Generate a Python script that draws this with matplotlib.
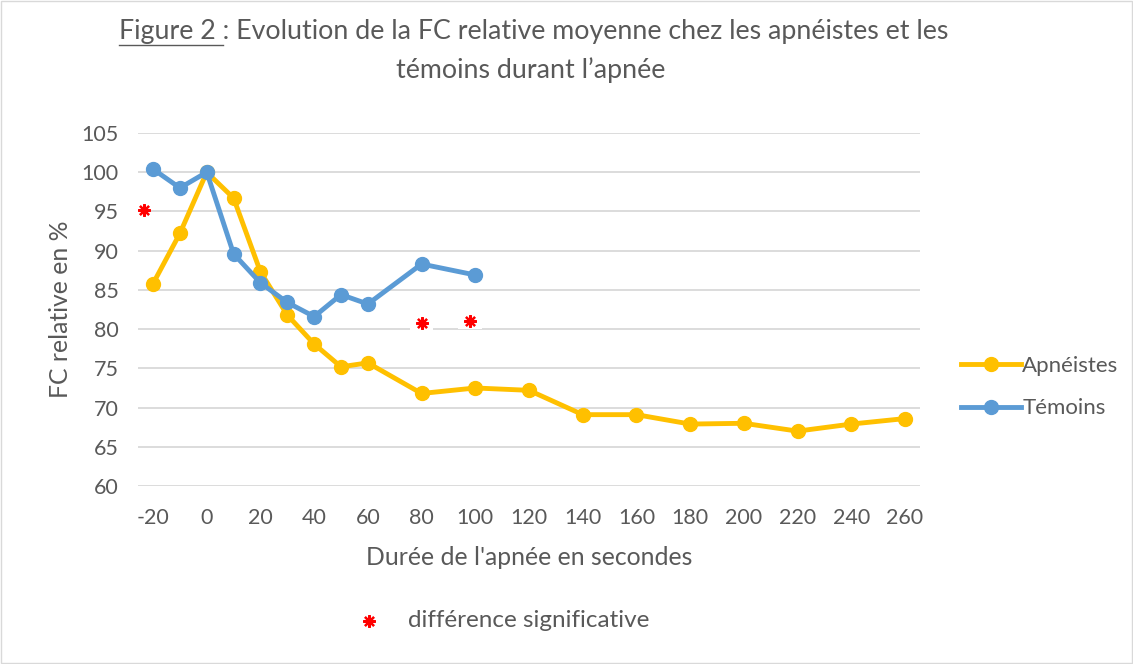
import matplotlib.pyplot as plt
from matplotlib.patches import Rectangle

plt.rcParams['font.family'] = ['Lato', 'DejaVu Sans']
plt.rcParams['axes.unicode_minus'] = False

# donnees
duree = [-20, -10, 0, 10, 20, 30, 40, 50, 60, 80, 100, 120, 140, 160, 180, 200, 220, 240, 260]
apneistes = [85.8, 92.2, 100, 96.7, 87.3, 81.8, 78.1, 75.2, 75.7, 71.8, 72.5, 72.2, 69.1, 69.1, 67.9, 68.0, 67.0, 67.9, 68.6]
duree_temoins = [-20, -10, 0, 10, 20, 30, 40, 50, 60, 80, 100]
temoins = [100.4, 98.0, 100, 89.6, 85.9, 83.4, 81.6, 84.4, 83.2, 88.3, 86.9]
# etoiles = difference significative
star_x = [-23.3, 80, 98]
star_y = [95.2, 80.8, 81.0]
xticks = list(range(-20, 261, 20))
yticks = list(range(60, 106, 5))

c_apn = '#FFC000'
c_tem = '#5B9BD5'
grey = '#595959'
rouge = '#FF0000'

fig = plt.figure(figsize=(11.33, 6.64), dpi=100)
ax = fig.add_axes([0.1218, 0.268, 0.812 - 0.1218, 0.7997 - 0.268])

ax.plot(duree, apneistes, color=c_apn, lw=3.5, marker='o', ms=10, label='Apnéistes', zorder=3)
ax.plot(duree_temoins, temoins, color=c_tem, lw=3.5, marker='o', ms=10, label='Témoins', zorder=4)

for i in range(len(star_x)):
    if i > 0:
        # petit cadre blanc derriere l'etoile (coupe la grille)
        ax.text(star_x[i], star_y[i], '      ', ha='center', va='center', fontsize=10,
                bbox=dict(facecolor='white', edgecolor='none', pad=1), zorder=2)
    ax.plot(star_x[i], star_y[i], marker=(8, 2, 0), color=rouge, ms=9, mew=1.6, zorder=5, clip_on=False)

ax.set_xlim(-25.6, 265.6)
ax.set_ylim(60, 105)
ax.set_xticks(xticks)
ax.set_yticks(yticks)
ax.grid(axis='y', color='#D9D9D9', lw=1.3)
ax.set_axisbelow(True)
for s in ax.spines.values():
    s.set_visible(False)
ax.tick_params(length=0, labelsize=15.5, colors=grey)
ax.tick_params(axis='x', pad=16)
ax.tick_params(axis='y', pad=14)
ax.set_xlabel("Durée de l'apnée en secondes", fontsize=17.8, color=grey, labelpad=13)
ax.set_ylabel('FC relative en %', fontsize=17.8, color=grey, labelpad=7)

ax.legend(loc='center left', bbox_to_anchor=(1.027, 0.28), frameon=False, fontsize=16,
          labelcolor=grey, handlelength=2.7, handletextpad=0.05, labelspacing=1.0)

# titre avec "Figure 2" souligne
titre1 = 'Figure 2 : Evolution de la FC relative moyenne chez les apnéistes et les'
titre2 = 'témoins durant l\u2019apnée'
fs_t = 19.3
t1 = fig.text(0.471, 0.942, titre1, fontsize=fs_t, color=grey, ha='center', va='baseline')
fig.text(0.468, 0.883, titre2, fontsize=fs_t, color=grey, ha='center', va='baseline')
r = fig.canvas.get_renderer()
bb = t1.get_window_extent(r)
tmp = fig.text(0, 0, 'Figure 2 ', fontsize=fs_t)
w = tmp.get_window_extent(r).width
tmp.remove()
x0 = bb.x0 / fig.bbox.width
x1 = (bb.x0 + w) / fig.bbox.width
fig.add_artist(plt.Line2D([x0, x1], [0.932, 0.932], color=grey, lw=1, transform=fig.transFigure))

# legende du bas
fig.add_artist(plt.Line2D([0.326], [0.065], marker=(8, 2, 0), color=rouge, ms=9, mew=1.6,
                          transform=fig.transFigure))
fig.text(0.36, 0.065, 'différence significative', fontsize=17.5, color=grey, ha='left', va='center')

fig.add_artist(Rectangle((0.001, 0.001), 0.998, 0.998, transform=fig.transFigure,
                         fill=False, edgecolor='#D9D9D9', lw=1))

fig.savefig('out.png', dpi=100)
